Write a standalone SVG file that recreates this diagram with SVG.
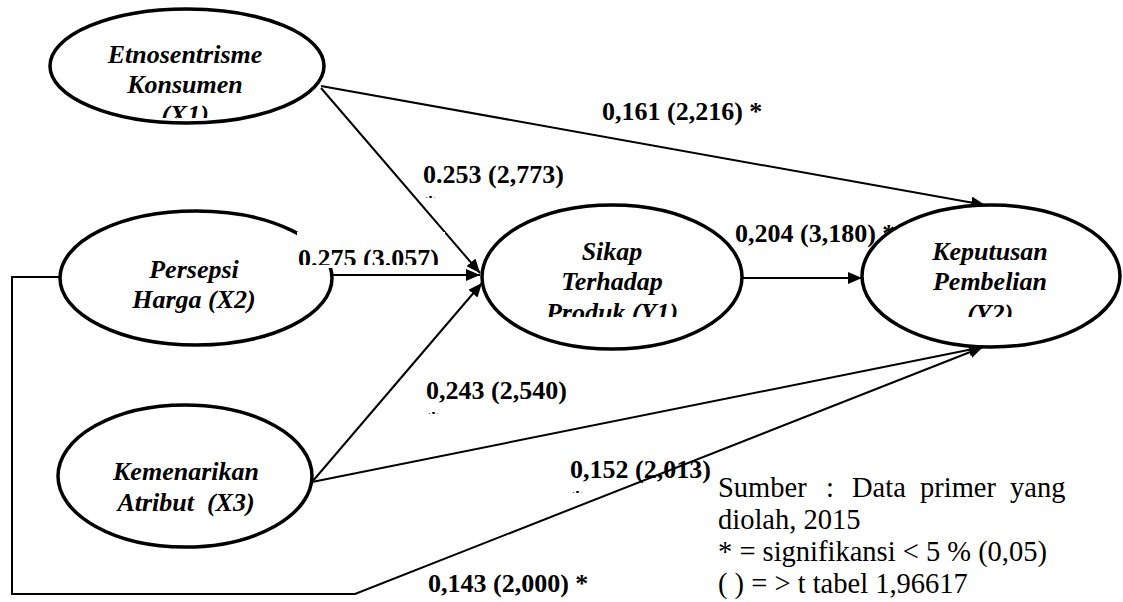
<svg xmlns="http://www.w3.org/2000/svg" width="1123" height="602" viewBox="0 0 1123 602">
<style>
.node ellipse{fill:#fff;stroke:#000;stroke-width:3.5}
.nt{font-family:"Liberation Serif","Times New Roman",serif;font-size:26px;font-weight:bold;font-style:italic;text-anchor:middle;fill:#000}
.lbl{font-family:"Liberation Serif","Times New Roman",serif;font-size:26px;font-weight:bold;fill:#000}
.leg{font-family:"Liberation Serif","Times New Roman",serif;font-size:28.5px;fill:#000}
.conn{fill:none;stroke:#000;stroke-width:2}
</style>
<defs>
<marker id="arr" viewBox="0 0 14 12" refX="14" refY="6" markerWidth="14" markerHeight="12" markerUnits="userSpaceOnUse" orient="auto"><path d="M0,0 L14,6 L0,12 z" fill="#000"/></marker>
<clipPath id="cX1"><rect x="40" y="30" width="300" height="88"/></clipPath>
<clipPath id="cY1"><rect x="490" y="230" width="250" height="87"/></clipPath>
<clipPath id="cY2"><rect x="870" y="230" width="250" height="87"/></clipPath>
<clipPath id="cL253"><rect x="415" y="150" width="170" height="48"/></clipPath>
<clipPath id="cL275"><rect x="290" y="235" width="160" height="30"/></clipPath>
<clipPath id="cL243"><rect x="415" y="370" width="170" height="44"/></clipPath>
<clipPath id="cL152"><rect x="560" y="450" width="170" height="43"/></clipPath>
</defs>
<rect width="1123" height="602" fill="#fff"/>
<g id="connectors">
<path class="conn" d="M321,86 L985,205" marker-end="url(#arr)"/>
<path class="conn" d="M321,88 L480,273" marker-end="url(#arr)"/>
<path class="conn" d="M330,275 L480,275" marker-end="url(#arr)"/>
<path class="conn" d="M312,482 L482,283" marker-end="url(#arr)"/>
<path class="conn" d="M312,482 L983,347" marker-end="url(#arr)"/>
<path class="conn" d="M60,277 L12,277 L12,594 L355,594 L983,347" marker-end="url(#arr)"/>
<path class="conn" d="M743,278 L862,278" marker-end="url(#arr)"/>
</g>
<g id="node-x1" class="node">
<ellipse cx="187" cy="66" rx="137" ry="57"/>
<text class="nt" clip-path="url(#cX1)"><tspan x="185" y="63">Etnosentrisme</tspan><tspan x="185" y="93">Konsumen</tspan><tspan x="185" y="123">(X1)</tspan></text>
</g>
<g id="node-x2" class="node">
<ellipse cx="196" cy="278" rx="136" ry="67"/>
<text class="nt"><tspan x="194" y="278">Persepsi</tspan><tspan x="194" y="308">Harga (X2)</tspan></text>
</g>
<g id="node-x3" class="node">
<ellipse cx="185" cy="476" rx="127" ry="71"/>
<text class="nt" xml:space="preserve"><tspan x="186" y="480">Kemenarikan</tspan><tspan x="186" y="511">Atribut  (X3)</tspan></text>
</g>
<g id="node-y1" class="node">
<ellipse cx="612" cy="277" rx="130" ry="72"/>
<text class="nt" clip-path="url(#cY1)"><tspan x="612" y="260">Sikap</tspan><tspan x="612" y="290">Terhadap</tspan><tspan x="612" y="321">Produk (Y1)</tspan></text>
</g>
<g id="labels">
<text class="lbl" x="602" y="120">0,161 (2,216) *</text>
<text class="lbl" clip-path="url(#cL253)"><tspan x="423" y="183">0.253 (2,773)</tspan><tspan x="424" y="213">*</tspan></text>
<rect x="297" y="232" width="148" height="36" fill="#fff"/>
<text class="lbl" clip-path="url(#cL275)" x="298" y="267">0.275 (3.057)</text>
<text class="lbl" x="735" y="242">0,204 (3,180) *</text>
<text class="lbl" clip-path="url(#cL243)"><tspan x="426" y="399">0,243 (2,540)</tspan><tspan x="427" y="429">*</tspan></text>
<text class="lbl" clip-path="url(#cL152)"><tspan x="570" y="478">0,152 (2,013)</tspan><tspan x="571" y="508">*</tspan></text>
<text class="lbl" x="428" y="592">0,143 (2,000) *</text>
</g>
<g id="node-y2" class="node">
<ellipse cx="991" cy="276" rx="129" ry="71"/>
<text class="nt" clip-path="url(#cY2)"><tspan x="990" y="260">Keputusan</tspan><tspan x="990" y="290">Pembelian</tspan><tspan x="990" y="322">(Y2)</tspan></text>
</g>
<g id="legend">
<text class="leg"><tspan x="718" y="497">Sumber</tspan><tspan x="826" y="497">:</tspan><tspan x="852" y="497">Data</tspan><tspan x="920" y="497">primer</tspan><tspan x="1010" y="497">yang</tspan></text>
<text class="leg" x="718" y="529">diolah, 2015</text>
<text class="leg" x="718" y="561">* = signifikansi &lt; 5 % (0,05)</text>
<text class="leg" x="718" y="593">( ) = &gt; t tabel 1,96617</text>
</g>
</svg>
